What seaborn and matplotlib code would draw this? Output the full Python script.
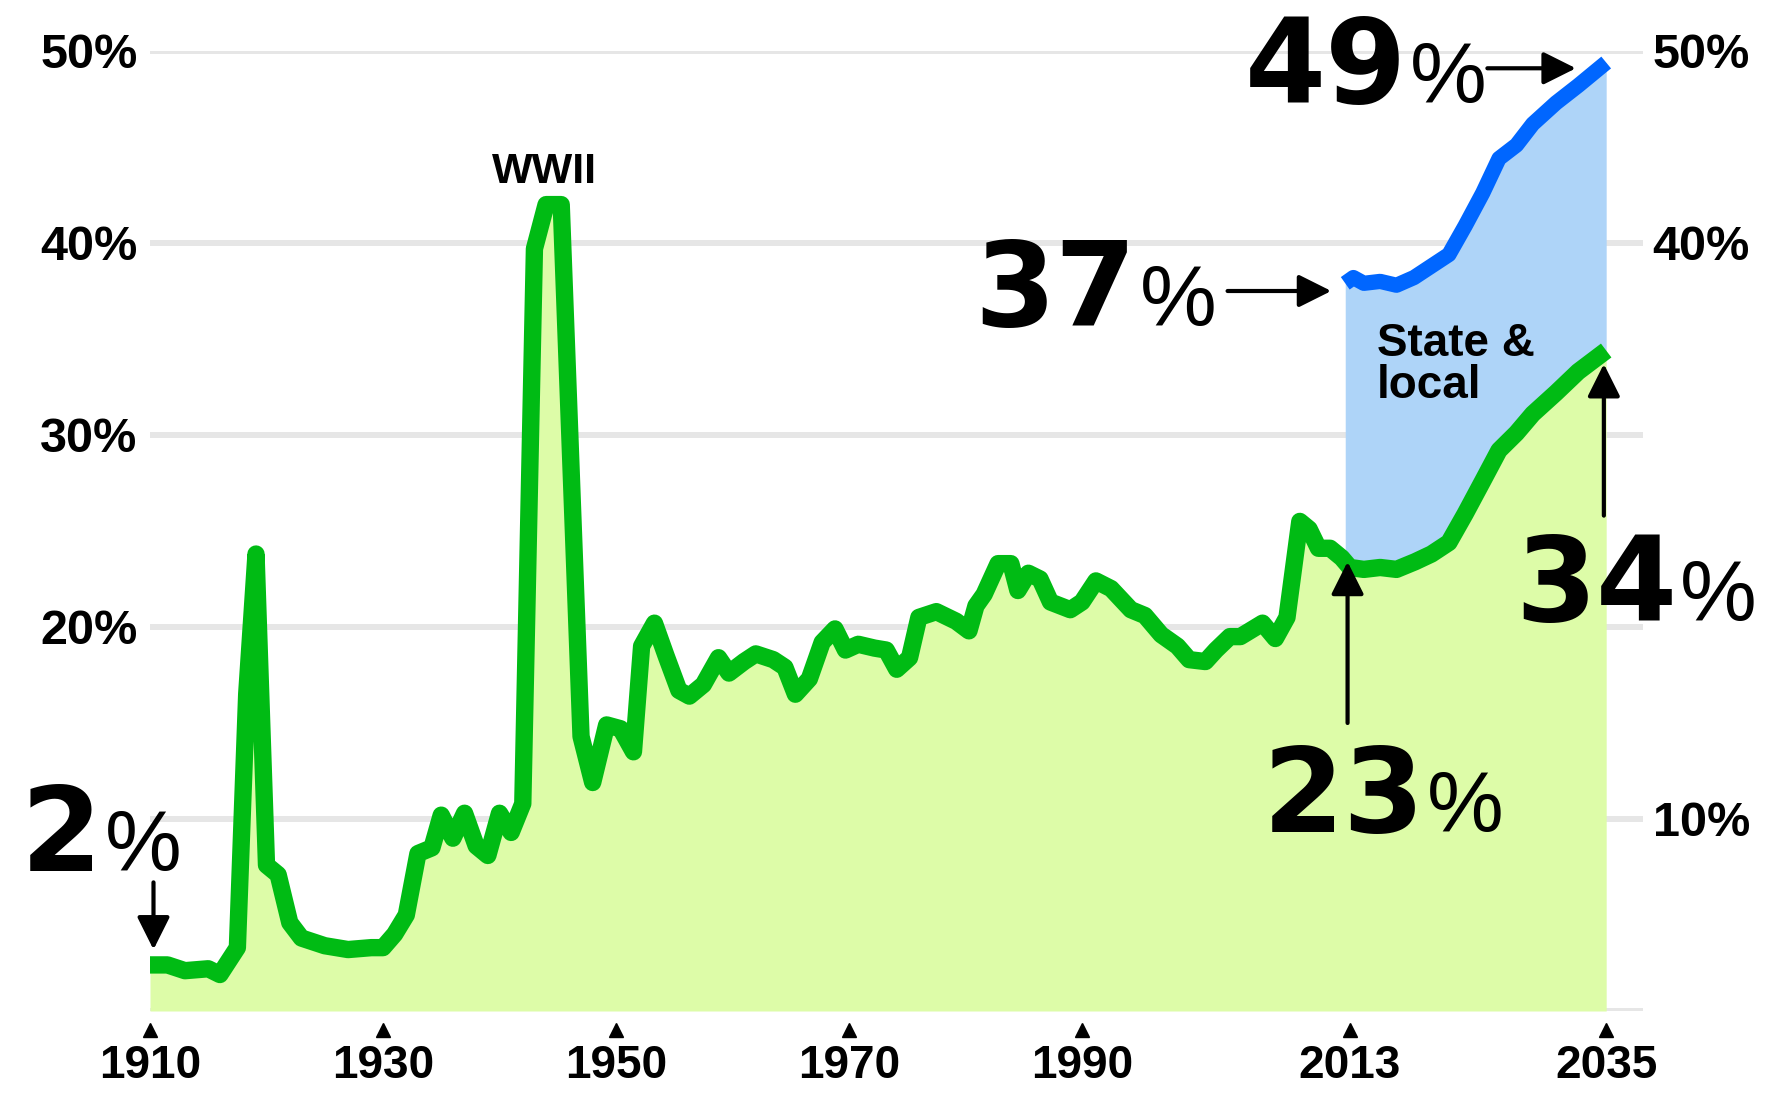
import numpy as np
import matplotlib
matplotlib.use("Agg")
import matplotlib.pyplot as plt
import seaborn as sns

# federal spending share (green)
green_years = [1910, 1911.5, 1913, 1915, 1916, 1917.5, 1918.3, 1919.1, 1920, 1921, 1922, 1923,
               1925, 1927, 1929, 1930, 1931, 1932, 1933, 1934.2, 1935, 1936, 1937, 1938, 1939,
               1940, 1941, 1942, 1943, 1944, 1945.3, 1947, 1948, 1949.2, 1950.4, 1951.5, 1952.2,
               1953.3, 1954.3, 1955.4, 1956.3, 1957.5, 1958.8, 1959.7, 1961, 1962, 1963.5, 1964.5,
               1965.4, 1966.6, 1967.7, 1968.8, 1969.7, 1970.8, 1972.2, 1973.2, 1974.1, 1975.2,
               1976, 1977.5, 1979.2, 1980.3, 1980.9, 1981.6, 1982.8, 1983.9, 1984.5, 1985.4,
               1986.4, 1987.3, 1989, 1990, 1991.2, 1992.5, 1994.2, 1995.4, 1996.8, 1998.2, 1999.2,
               2000.6, 2001.5, 2002.7, 2003.6, 2005.5, 2006.6, 2007.6, 2008.7, 2009.5, 2010.3,
               2011.3, 2012.3, 2013, 2014.2, 2015.6, 2017, 2018.6, 2020, 2021.5, 2022.9, 2024.4,
               2025.8, 2027.3, 2028.7, 2030.7, 2032.6, 2035]
green_pct = [2.4, 2.4, 2.1, 2.2, 1.9, 3.3, 16.5, 23.8, 7.6, 7.1, 4.6, 3.8,
             3.4, 3.2, 3.3, 3.3, 4.0, 5.0, 8.2, 8.5, 10.2, 9.0, 10.3, 8.6, 8.1,
             10.3, 9.3, 10.8, 39.7, 42.0, 42.0, 14.3, 11.9, 14.9, 14.7, 13.5, 19.0,
             20.2, 18.5, 16.7, 16.4, 17.0, 18.4, 17.6, 18.2, 18.6, 18.3, 17.9,
             16.5, 17.3, 19.2, 19.9, 18.8, 19.1, 18.9, 18.8, 17.8, 18.4,
             20.5, 20.8, 20.3, 19.8, 21.1, 21.7, 23.3, 23.3, 21.9, 22.8,
             22.5, 21.3, 20.9, 21.3, 22.4, 22.0, 20.9, 20.6, 19.6, 19.0, 18.3,
             18.2, 18.8, 19.5, 19.5, 20.2, 19.4, 20.5, 25.5, 25.1, 24.1,
             24.1, 23.6, 23.1, 23.0, 23.1, 23.0, 23.4, 23.8, 24.4, 25.9, 27.6,
             29.2, 30.1, 31.1, 32.2, 33.3, 34.4]

# total incl. state & local (blue), projection part
blue_years = [2012.6, 2013.3, 2014.2, 2015.6, 2017, 2018.5, 2020, 2021.5, 2022.9, 2024.4,
              2025.8, 2027.3, 2028.7, 2030.7, 2032.6, 2035]
blue_pct = [37.9, 38.2, 37.9, 38.0, 37.8, 38.2, 38.8, 39.4, 40.9, 42.6,
            44.4, 45.1, 46.2, 47.3, 48.2, 49.4]

xticks = [1910, 1930, 1950, 1970, 1990, 2013, 2035]
left_ticks = [0, 10, 20, 30, 40, 50]
left_labels = ["", "", "20%", "30%", "40%", "50%"]
right_ticks = [10, 40, 50]
right_labels = ["10%", "40%", "50%"]

GREEN = "#00bb14"
GREEN_FILL = "#ddfca8"
BLUE = "#0066ff"
BLUE_FILL = "#aed4f8"
BIG = ["DejaVu Sans"]
THIN = ["Liberation Sans", "DejaVu Sans"]

sns.set_theme(style="white")
plt.rcParams["font.family"] = ["Liberation Sans", "DejaVu Sans"]
plt.rcParams["text.color"] = "black"
plt.rcParams["xtick.color"] = "black"
plt.rcParams["ytick.color"] = "black"

fig = plt.figure(figsize=(17.74, 10.97), dpi=100)
ax = fig.add_axes([150 / 1774, 86 / 1097, 1493 / 1774, 960 / 1097])
ax.set_xlim(1910.77, 2038.16)
ax.set_ylim(0, 50)

ax.fill_between(green_years, 0, green_pct, color=GREEN_FILL, lw=0, clip_on=False, zorder=1)
green_at_blue = np.interp(blue_years, green_years, green_pct)
ax.fill_between(blue_years, green_at_blue, blue_pct, color=BLUE_FILL, lw=0, zorder=1)

sns.lineplot(x=green_years, y=green_pct, ax=ax, color=GREEN, lw=12.5, sort=False,
             estimator=None, solid_capstyle="butt", solid_joinstyle="round", clip_on=False, zorder=3)
sns.lineplot(x=blue_years, y=blue_pct, ax=ax, color=BLUE, lw=11, sort=False,
             estimator=None, solid_capstyle="butt", solid_joinstyle="round", clip_on=False, zorder=3)

# axes styling
sns.despine(ax=ax, left=True, bottom=True)
ax.set_axisbelow(True)
ax.grid(axis="y", color="#e6e6e6", lw=4.3)
ax.grid(axis="x", visible=False)
ax.set_xticks(xticks)
ax.set_xticklabels([str(y) for y in xticks], fontsize=33, fontweight="bold")
ax.set_yticks(left_ticks)
ax.set_yticklabels(left_labels, fontsize=35, fontweight="bold")
ax.tick_params(axis="x", length=0, pad=24)
ax.tick_params(axis="y", length=0, pad=9)
ax.set_xlabel("")
ax.set_ylabel("")

# little triangles above the year labels
ax.plot(xticks, [-0.02] * len(xticks), transform=ax.get_xaxis_transform(), marker="^",
        ls="none", color="black", ms=10, clip_on=False)

ax2 = ax.twinx()
ax2.set_ylim(0, 50)
ax2.set_yticks(right_ticks)
ax2.set_yticklabels(right_labels, fontsize=35, fontweight="bold")
ax2.tick_params(axis="y", length=0, pad=7)
sns.despine(ax=ax2, left=True, bottom=True, right=True)
ax2.grid(False)


def big_label(x, y, num):
    ax.text(x, y, num, ha="right", va="baseline", fontsize=84, fontweight="bold", family=BIG)
    ax.text(x + 0.25, y, "%", ha="left", va="baseline", fontsize=62, fontweight="normal", family=THIN)


def arrow(tail, tip):
    ax.annotate("", xy=tip, xytext=tail, annotation_clip=False,
                arrowprops=dict(arrowstyle="-|>", color="black", lw=3, mutation_scale=50,
                                shrinkA=0, shrinkB=0))


big_label(1905.9, 7.3, "2")
arrow((1910.3, 6.7), (1910.3, 3.2))
big_label(1994.7, 35.7, "37")
arrow((2002.5, 37.5), (2011.4, 37.5))
big_label(2017.9, 47.3, "49")
arrow((2024.8, 49.1), (2032.4, 49.1))
big_label(2019.4, 9.3, "23")
arrow((2012.8, 15.0), (2012.8, 23.4))
big_label(2041.1, 20.3, "34")
arrow((2034.8, 25.8), (2034.8, 33.7))

ax.text(1943.9, 43.1, "WWII", ha="center", va="baseline", fontsize=31, fontweight="bold")
ax.text(2015.3, 35.9, "State &\nlocal", ha="left", va="top", fontsize=33, fontweight="bold",
        linespacing=0.95)

fig.savefig("out.png", dpi=100)
